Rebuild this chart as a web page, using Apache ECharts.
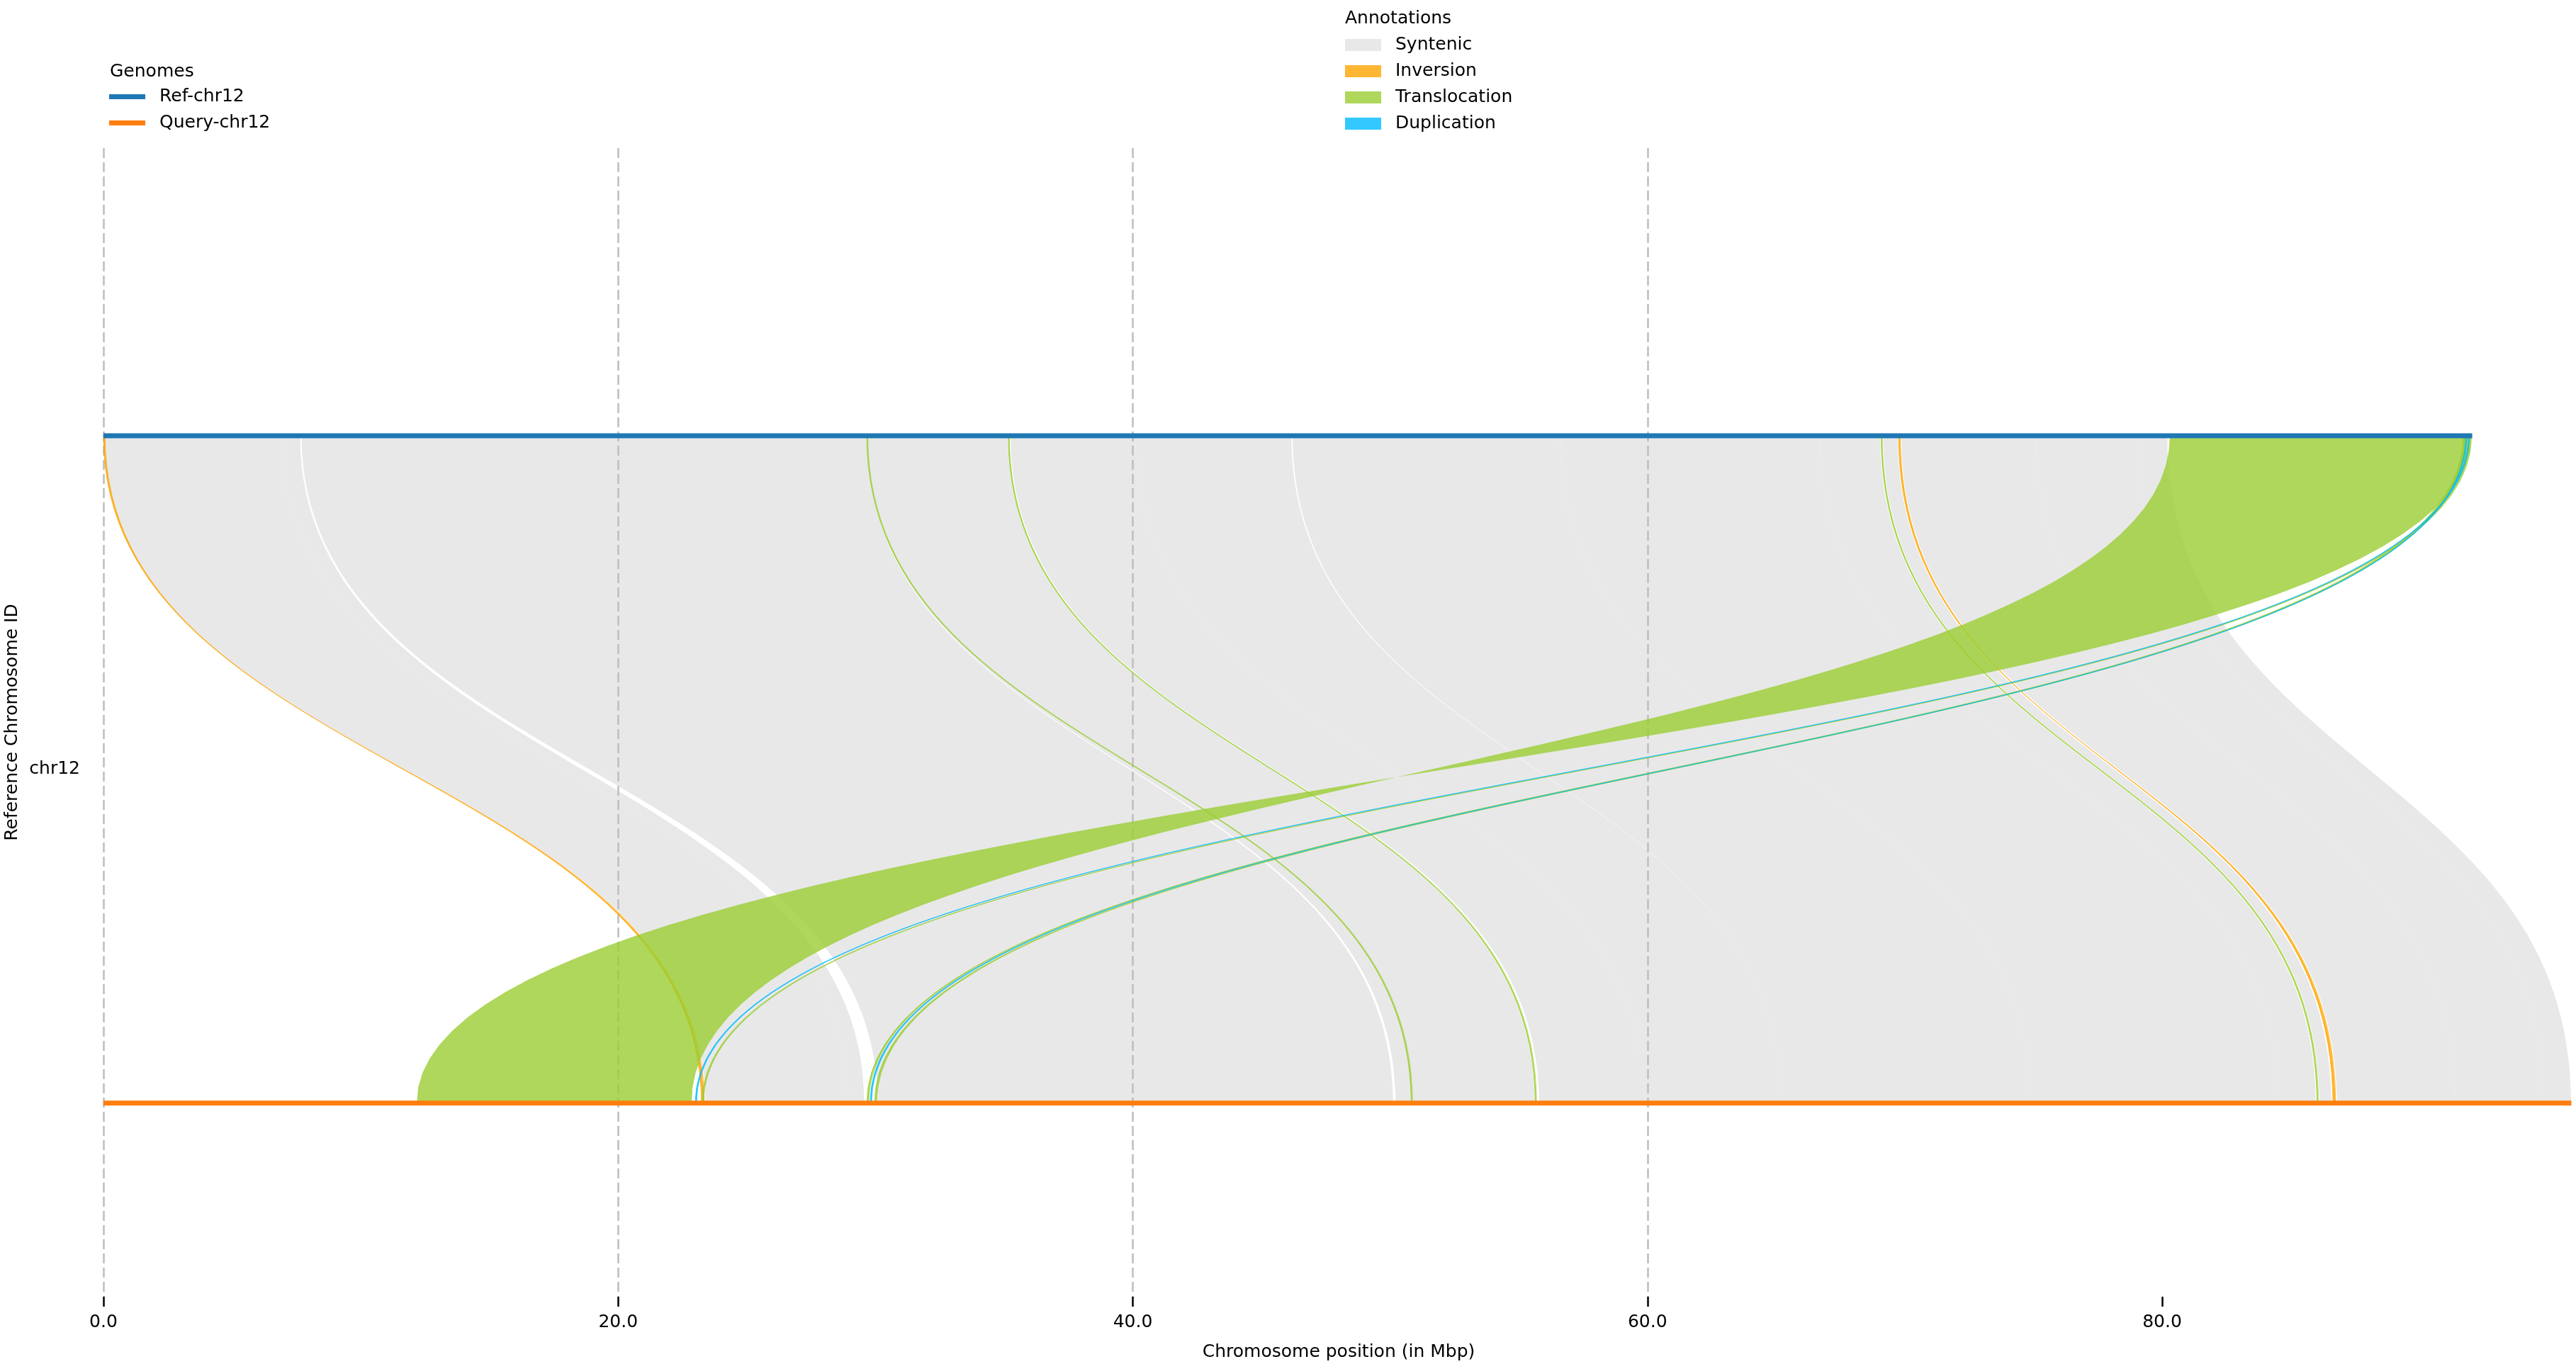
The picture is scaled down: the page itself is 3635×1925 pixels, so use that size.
<!DOCTYPE html>
<html><head><meta charset="utf-8">
<script src="https://cdn.jsdelivr.net/npm/echarts@6/dist/echarts.min.js"></script>
<style>html,body{margin:0;padding:0;background:#fff}#chart{width:3635px;height:1925px}</style>
</head><body><div id="chart"></div>
<script>
// ---------------- data (Mbp) ----------------
const genomes = ['Ref-chr12', 'Query-chr12'];
const genomeLengths = [92.05, 95.9];
const chromosomes = ['chr12'];
const xTicks = [0, 20, 40, 60, 80];
const annotationTypes = ['Syntenic', 'Inversion', 'Translocation', 'Duplication'];
// each alignment: [refStart, refEnd, queryStart, queryEnd]
const syntenic = [
  [0.0, 6.93, 23.4, 28.95],
  [6.93, 7.64, 28.95, 29.57],
  [7.7, 29.66, 30.1, 50.12],
  [29.68, 35.14, 50.22, 55.62],
  [35.25, 40.1, 55.8, 59.9],
  [40.1, 46.16, 59.9, 65.2],
  [46.21, 56.6, 65.2, 74.9],
  [56.6, 66.7, 74.9, 84.5],
  [66.7, 69.04, 84.5, 85.98],
  [69.16, 69.72, 86.12, 86.58],
  [69.86, 75.1, 86.8, 91.4],
  [75.1, 79.05, 91.4, 94.8],
  [79.05, 80.2, 94.8, 95.9]
];
const inversions = [
  [0.0, 0.06, 23.35, 23.24],
  [69.76, 69.82, 86.74, 86.64]
];
const translocations = [
  [80.3, 92.0, 22.86, 12.18],
  [91.95, 92.02, 23.32, 23.26],
  [91.76, 91.82, 30.05, 29.97],
  [91.7, 91.76, 29.74, 29.67],
  [29.66, 29.7, 50.82, 50.87],
  [35.16, 35.2, 55.64, 55.69],
  [69.08, 69.12, 86.02, 86.07]
];
const duplications = [
  [91.9, 91.94, 23.05, 23.0],
  [91.8, 91.84, 29.85, 29.8]
];

// ---------------- styling ----------------
const FONT = 'DejaVu Sans';
const REF_Y = 1, QRY_Y = 0;
const annotationColors = {
  Syntenic: 'rgba(222,222,222,0.7)',
  Inversion: 'rgba(255,165,0,0.8)',
  Translocation: 'rgba(154,205,50,0.8)',
  Duplication: 'rgba(0,187,255,0.8)'
};
const genomeColors = ['#1f77b4', '#ff7f0e'];

function ribbonSeries(name, data, z, strokeThin) {
  const color = annotationColors[name];
  return {
    type: 'custom', name: name, data: data, z: z, silent: true,
    encode: {x: [0, 1, 2, 3]},
    itemStyle: {color: color},
    renderItem: function (params, api) {
      const rs = api.value(0), re = api.value(1), qs = api.value(2), qe = api.value(3);
      const yr = api.coord([0, REF_Y])[1];
      const yq = api.coord([0, QRY_Y])[1];
      const ym = (yr + yq) / 2;
      const X = v => api.coord([v, REF_Y])[0];
      const p = 'M' + X(rs) + ',' + yr +
        ' C' + X(rs) + ',' + ym + ' ' + X(qs) + ',' + ym + ' ' + X(qs) + ',' + yq +
        ' L' + X(qe) + ',' + yq +
        ' C' + X(qe) + ',' + ym + ' ' + X(re) + ',' + ym + ' ' + X(re) + ',' + yr + ' Z';
      const thin = Math.abs(re - rs) < 1 && Math.abs(qe - qs) < 1;
      const style = {fill: color};
      if (strokeThin && thin) { style.stroke = color; style.lineWidth = 0.9; }
      return {type: 'path', shape: {pathData: p}, style: style};
    }
  };
}

const chart = echarts.init(document.getElementById('chart'), null, {renderer: 'canvas'});
const txt = {fontFamily: FONT, fontSize: 25, color: '#000'};

chart.setOption({
  animation: false,
  backgroundColor: '#fff',
  textStyle: {fontFamily: FONT},
  title: [
    {text: 'Genomes', left: 155, top: 89, padding: 0,
     textStyle: Object.assign({fontWeight: 'normal', lineHeight: 25}, txt)},
    {text: 'Annotations', left: 1898, top: 14, padding: 0,
     textStyle: Object.assign({fontWeight: 'normal', lineHeight: 25}, txt)}
  ],
  legend: [
    {data: genomes, orient: 'vertical', left: 154, top: 124, padding: 0,
     itemWidth: 51, itemHeight: 7, itemGap: 12, icon: 'rect', selectedMode: false,
     textStyle: Object.assign({lineHeight: 25, padding: [0, 0, 0, 15]}, txt)},
    {data: annotationTypes, orient: 'vertical', left: 1898, top: 51, padding: 0,
     itemWidth: 51, itemHeight: 17, itemGap: 12, icon: 'rect', selectedMode: false,
     textStyle: Object.assign({lineHeight: 25, padding: [0, 0, 0, 15]}, txt)}
  ],
  grid: {left: 146, right: 3, top: 209, bottom: 95, containLabel: false, outerBoundsMode: 'none'},
  xAxis: {
    type: 'value', min: 0, max: 96, interval: 20, z: 3, position: 'bottom',
    name: 'Chromosome position (in Mbp)', nameLocation: 'middle', nameGap: 66,
    nameTextStyle: txt,
    axisLine: {show: false, onZero: false},
    axisTick: {show: true, length: 14, customValues: xTicks, lineStyle: {color: '#000', width: 2.5}},
    axisLabel: {customValues: xTicks, margin: 24, fontFamily: FONT, fontSize: 25, color: '#000',
      formatter: v => Number(v).toFixed(1)},
    splitLine: {show: true, showMinLine: true, showMaxLine: false,
      lineStyle: {color: '#bdbdbd', width: 2.5, type: [14, 6]}}
  },
  yAxis: {
    type: 'value', min: -0.29, max: 1.431,
    name: 'Reference Chromosome ID', nameLocation: 'middle', nameGap: 113,
    nameTextStyle: txt,
    axisLine: {show: false, onZero: false}, axisTick: {show: false}, splitLine: {show: false},
    axisLabel: {customValues: [(REF_Y + QRY_Y) / 2], margin: 33, fontFamily: FONT, fontSize: 25, color: '#000',
      formatter: () => chromosomes[0]}
  },
  series: [
    ribbonSeries('Syntenic', syntenic, 1, false),
    ribbonSeries('Inversion', inversions, 5, true),
    ribbonSeries('Translocation', translocations, 5, true),
    ribbonSeries('Duplication', duplications, 6, true),
    {type: 'line', name: genomes[0], z: 10, symbol: 'none', silent: true,
     data: [[0, REF_Y], [genomeLengths[0], REF_Y]],
     itemStyle: {color: genomeColors[0]}, lineStyle: {color: genomeColors[0], width: 7, cap: 'butt'}},
    {type: 'line', name: genomes[1], z: 10, symbol: 'none', silent: true,
     data: [[0, QRY_Y], [genomeLengths[1], QRY_Y]],
     itemStyle: {color: genomeColors[1]}, lineStyle: {color: genomeColors[1], width: 7, cap: 'butt'}}
  ]
});
</script></body></html>
